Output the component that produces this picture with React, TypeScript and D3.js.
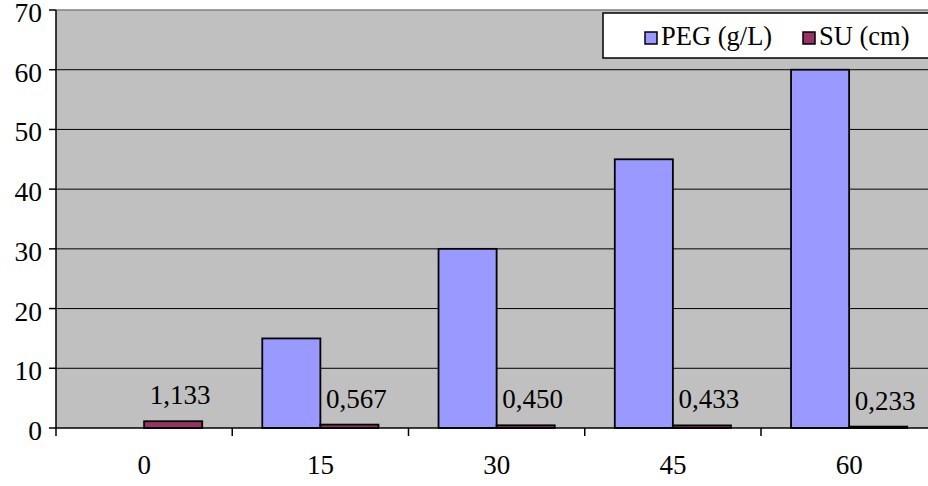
import React from "react";
import * as d3 from "d3";

const categories = ["0", "15", "30", "45", "60"];
const seriesNames = ["PEG (g/L)", "SU (cm)"];
const pegValues = [0, 15, 30, 45, 60];
const suValues = [1.133, 0.567, 0.45, 0.433, 0.233];
const suLabels = ["1,133", "0,567", "0,450", "0,433", "0,233"];
const yTicks = [0, 10, 20, 30, 40, 50, 60, 70];

const W = 928;
const H = 486;
const plot = { left: 56, right: 937.25, top: 10, bottom: 428 };
const colors = ["#9999FF", "#993366"];
const FONT = "Liberation Serif, Times New Roman, serif";

export default function App() {
  const x = d3.scaleBand<string>().domain(categories).range([plot.left, plot.right]).padding(0);
  const inner = d3
    .scaleBand<string>()
    .domain(seriesNames)
    .range([0, x.bandwidth()])
    .paddingInner(0)
    .paddingOuter(0.517);
  const y = d3.scaleLinear().domain([0, 70]).range([plot.bottom, plot.top]);

  const series = [pegValues, suValues];
  const boundaries = categories.map((c) => x(c) as number);

  return (
    <svg
      width={W}
      height={H}
      style={{ position: "absolute", left: 0, top: 0, display: "block", background: "#fff", fontFamily: FONT }}
    >
      {/* plot background */}
      <rect x={plot.left} y={plot.top} width={W - plot.left} height={plot.bottom - plot.top} fill="#C0C0C0" />
      <line x1={plot.left} x2={W} y1={plot.top} y2={plot.top} stroke="#808080" strokeWidth={1.5} />

      {/* gridlines */}
      {yTicks
        .filter((t) => t > 0 && t < 70)
        .map((t) => (
          <line key={`g${t}`} x1={plot.left} x2={W} y1={y(t)} y2={y(t)} stroke="#000" strokeWidth={1} />
        ))}

      {/* bars */}
      {series.map((vals, si) =>
        vals.map((v, i) => {
          if (v <= 0) return null;
          const bx = (x(categories[i]) as number) + (inner(seriesNames[si]) as number);
          return (
            <rect
              key={`b${si}-${i}`}
              x={bx}
              y={y(v)}
              width={inner.bandwidth()}
              height={y(0) - y(v)}
              fill={colors[si]}
              stroke="#000"
              strokeWidth={1.8}
            />
          );
        })
      )}

      {/* value labels for SU */}
      {suValues.map((v, i) => {
        const cx = (x(categories[i]) as number) + (inner(seriesNames[1]) as number) + inner.bandwidth() / 2;
        return (
          <text key={`l${i}`} x={cx + 7} y={y(v) - 17} textAnchor="middle" fontSize={27} fill="#000">
            {suLabels[i]}
          </text>
        );
      })}

      {/* y axis */}
      <line x1={plot.left} x2={plot.left} y1={plot.top} y2={plot.bottom} stroke="#000" strokeWidth={1.5} />
      {yTicks.map((t) => (
        <g key={`t${t}`}>
          <line x1={plot.left - 7} x2={plot.left} y1={y(t)} y2={y(t)} stroke="#000" strokeWidth={1.5} />
          <text x={plot.left - 14} y={y(t) + 12} textAnchor="end" fontSize={27.5} fill="#000">
            {t}
          </text>
        </g>
      ))}

      {/* x axis */}
      <line x1={plot.left} x2={W} y1={plot.bottom} y2={plot.bottom} stroke="#000" strokeWidth={1.5} />
      {boundaries.map((b, i) => (
        <line key={`xt${i}`} x1={b} x2={b} y1={plot.bottom} y2={plot.bottom + 8} stroke="#000" strokeWidth={1.5} />
      ))}
      {categories.map((c) => (
        <text
          key={`c${c}`}
          x={(x(c) as number) + x.bandwidth() / 2}
          y={474}
          textAnchor="middle"
          fontSize={27}
          fill="#000"
        >
          {c}
        </text>
      ))}

      {/* legend */}
      <rect x={603} y={13} width={340} height={45} fill="#fff" stroke="#000" strokeWidth={1.5} />
      {seriesNames.map((s, si) => {
        const lx = si === 0 ? 645 : 803;
        return (
          <g key={`lg${si}`}>
            <rect x={lx} y={32} width={12} height={12} fill={colors[si]} stroke="#000" strokeWidth={1.5} />
            <text x={lx + 16} y={45} fontSize={26.5} fill="#000">
              {s}
            </text>
          </g>
        );
      })}
    </svg>
  );
}
